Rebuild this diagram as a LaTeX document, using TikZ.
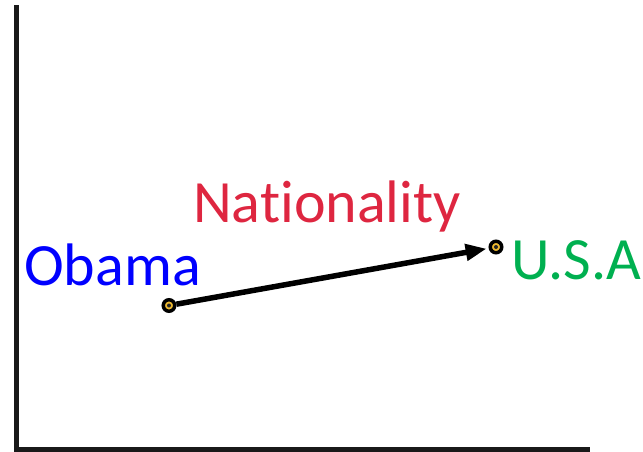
\documentclass[tikz,border=0pt]{standalone}
\usepackage{fontspec}
\setmainfont[Ligatures=NoCommon]{Carlito}
\usepackage{xcolor}
\usetikzlibrary{positioning,arrows.meta}
\definecolor{obamablue}{RGB}{0,0,255}
\definecolor{relred}{RGB}{222,38,64}
\definecolor{usagreen}{RGB}{0,176,80}
\definecolor{dotgold}{RGB}{236,184,48}

\begin{document}
\begin{tikzpicture}[
  x=1pt, y=-1pt,
  lbl/.style={inner sep=0pt, anchor=base west, font=\fontsize{60}{62}\selectfont},
  ent/.style={circle, draw=black, line width=3.5pt, fill=dotgold, minimum size=11.5pt, inner sep=0pt,
    path picture={\fill[black!85] (path picture bounding box.center) circle (2pt);}},
  axis/.style={line width=5pt, black!90},
  arr/.style={-{Triangle[length=21pt, width=16pt]}, line width=5.5pt}]
\useasboundingbox (0,0) rectangle (643,451);
% axes
\coordinate (top) at (16.5,5);
\coordinate (orig) at (16.5,449);
\coordinate (right) at (590,449);
\draw[axis] (top) -- (orig) -- (right);
% entities
\node[ent] (obamadot) at (169,305.5) {};
\node[ent] (usadot) at (496,247) {};
\node[lbl, text=obamablue] (obama) at (24,285) {Obama};
\node[lbl, text=usagreen] (usa) at (511,279) {U.S.A};
\node[lbl, text=relred] (rel) at (193,222) {Nationality};
% relation
\draw[arr, shorten >=2pt] (obamadot) -- (usadot);
\end{tikzpicture}
\end{document}
